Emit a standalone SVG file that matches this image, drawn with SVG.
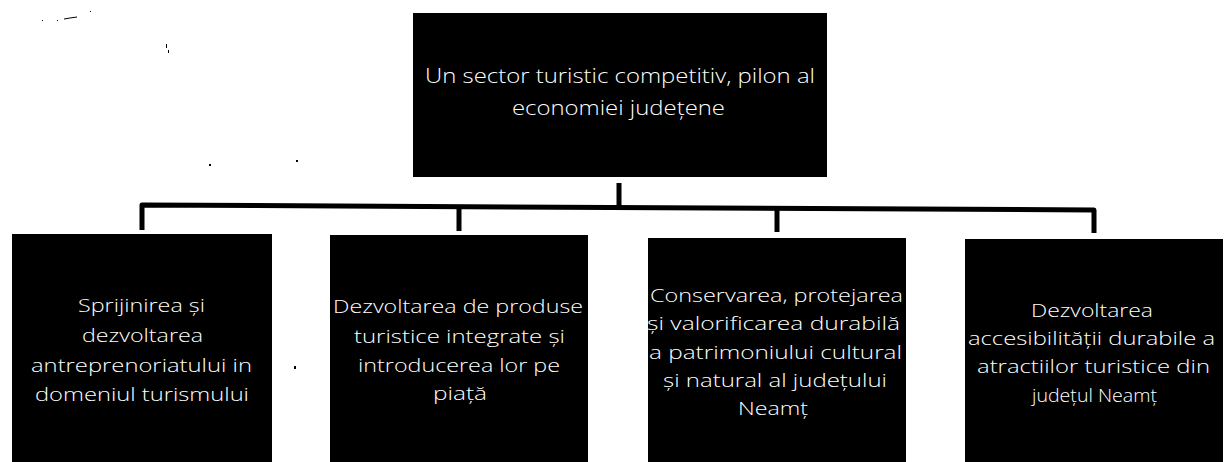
<svg xmlns="http://www.w3.org/2000/svg" width="1225" height="462" viewBox="0 0 1225 462">
<style>
.box{fill:#000}
.t{fill:#fff;font-family:"Open Sans","Liberation Sans",sans-serif;font-size:19px;font-weight:300}
.tt{fill:#fff;font-family:"Open Sans","Liberation Sans",sans-serif;font-size:20px;font-weight:300}
.c{fill:none;stroke:#000;stroke-width:5;stroke-linejoin:round}
.n{fill:#000}
</style>
<rect width="1225" height="462" fill="#fff"/>
<g id="noise">
<path d="M64 19 L70 18 L77 17" stroke="#000" stroke-width="1" fill="none"/>
<rect class="n" x="42" y="20" width="1" height="1"/>
<rect class="n" x="57" y="20" width="1" height="1"/>
<rect class="n" x="90" y="11" width="1" height="1"/>
<rect class="n" x="166" y="44" width="1" height="4"/>
<rect class="n" x="168" y="50" width="1" height="3"/>
<rect class="n" x="209" y="164" width="2" height="2"/>
<rect class="n" x="296" y="160" width="2" height="2"/>
<rect class="n" x="294" y="366" width="2" height="3"/>
</g>
<g id="connectors">
<path class="c" d="M619 183 V206"/>
<path class="c" d="M142 230 V205 L1094 210 V233"/>
<path class="c" d="M459 207 V231"/>
<path class="c" d="M777 209 V232"/>
</g>
<g id="root">
<rect class="box" x="413" y="13" width="414" height="164"/>
<text class="tt" x="425" y="83" textLength="390" lengthAdjust="spacingAndGlyphs">Un sector turistic competitiv, pilon al</text>
<text class="tt" x="512" y="115" textLength="213" lengthAdjust="spacingAndGlyphs">economiei județene</text>
</g>
<g id="node1">
<rect class="box" x="12" y="234" width="260" height="228"/>
<text class="t" x="78" y="312" textLength="127" lengthAdjust="spacingAndGlyphs">Sprijinirea și</text>
<text class="t" x="82" y="342" textLength="121" lengthAdjust="spacingAndGlyphs">dezvoltarea</text>
<text class="t" x="31" y="371.5" textLength="221" lengthAdjust="spacingAndGlyphs">antreprenoriatului in</text>
<text class="t" x="35" y="401" textLength="214" lengthAdjust="spacingAndGlyphs">domeniul turismului</text>
</g>
<g id="node2">
<rect class="box" x="330" y="235" width="258" height="227"/>
<text class="t" x="333" y="313" textLength="250" lengthAdjust="spacingAndGlyphs">Dezvoltarea de produse</text>
<text class="t" x="354" y="343" textLength="211" lengthAdjust="spacingAndGlyphs">turistice integrate și</text>
<text class="t" x="358" y="372" textLength="202" lengthAdjust="spacingAndGlyphs">introducerea lor pe</text>
<text class="t" x="433" y="400" textLength="54" lengthAdjust="spacingAndGlyphs">piață</text>
</g>
<g id="node3">
<rect class="box" x="648" y="238" width="258" height="224"/>
<text class="t" x="650" y="302" textLength="253" lengthAdjust="spacingAndGlyphs">Conservarea, protejarea</text>
<text class="t" x="647" y="330" textLength="253" lengthAdjust="spacingAndGlyphs">și valorificarea durabilă</text>
<text class="t" x="649" y="358.5" textLength="253" lengthAdjust="spacingAndGlyphs">a patrimoniului cultural</text>
<text class="t" x="663" y="387" textLength="224" lengthAdjust="spacingAndGlyphs">și natural al județului</text>
<text class="t" x="738" y="415" textLength="70" lengthAdjust="spacingAndGlyphs">Neamț</text>
</g>
<g id="node4">
<rect class="box" x="965" y="239" width="258" height="223"/>
<text class="t" x="1031" y="317" textLength="122" lengthAdjust="spacingAndGlyphs">Dezvoltarea</text>
<text class="t" x="968" y="345" textLength="247" lengthAdjust="spacingAndGlyphs">accesibilității durabile a</text>
<text class="t" x="977" y="373" textLength="233" lengthAdjust="spacingAndGlyphs">atractiilor turistice din</text>
<text class="t" x="1032" y="402" textLength="125" lengthAdjust="spacingAndGlyphs">județul Neamț</text>
</g>
</svg>
